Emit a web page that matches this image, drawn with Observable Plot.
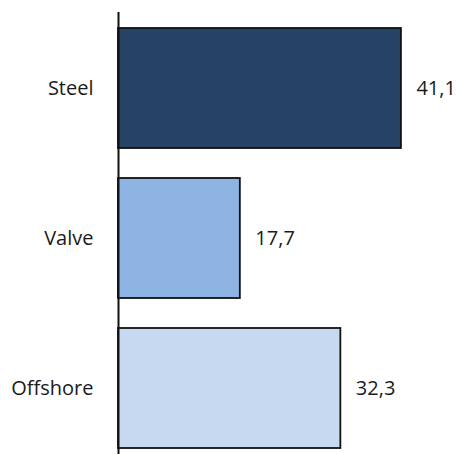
<!DOCTYPE html>
<html><head><meta charset="utf-8">
<script src="https://cdn.jsdelivr.net/npm/d3@7"></script>
<script src="https://cdn.jsdelivr.net/npm/@observablehq/plot@0.6"></script>
<style>body{margin:0;background:#fff}</style>
</head><body><div id="chart"></div>
<script>
const categories = ["Steel", "Valve", "Offshore"];
const values = [41.1, 17.7, 32.3];
const labels = ["41,1", "17,7", "32,3"];
const colors = ["#264264", "#8eb4e3", "#c6d9f1"];

const data = categories.map((c, i) => ({cat: c, v: values[i], label: labels[i], color: colors[i]}));

const chart = Plot.plot({
  width: 462, height: 454,
  marginLeft: 118, marginRight: 0, marginTop: 12, marginBottom: 0,
  style: {fontFamily: "Open Sans", fontSize: "20px", color: "#1a1a1a"},
  x: {domain: [0, 49.1], range: [118, 456], axis: null},
  y: {domain: categories, range: [12.5, 462.5], paddingInner: 0.2, paddingOuter: 0.1, axis: null},
  marks: [
    Plot.barX(data, {y: "cat", x: "v", fill: "color", stroke: "#111", strokeWidth: 1.8}),
    Plot.ruleX([0], {stroke: "#111", strokeWidth: 2}),
    Plot.text(data, {y: "cat", x: 0, text: "cat", textAnchor: "end", dx: -25, fontSize: 20, fill: "#1a1a1a"}),
    Plot.text(data, {y: "cat", x: "v", text: "label", textAnchor: "start", dx: 15, fontSize: 20, fill: "#1a1a1a"})
  ]
});
document.getElementById("chart").appendChild(chart);
</script></body></html>
